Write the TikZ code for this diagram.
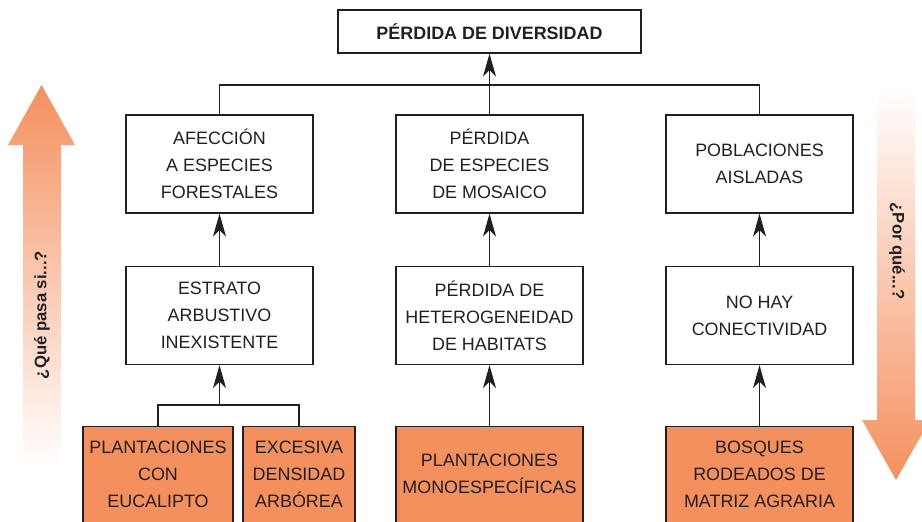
\documentclass[tikz,border=0pt]{standalone}
\usepackage{fontspec}
\setmainfont{Liberation Sans}
\usetikzlibrary{arrows.meta}
\definecolor{salmon}{RGB}{244,144,94}
\definecolor{ink}{RGB}{35,31,32}
\begin{document}
\begin{tikzpicture}[x=0.02cm, y=-0.02cm, color=ink, line width=0.7pt, >={Stealth[length=0.46cm,width=0.26cm,inset=0.13cm]},
  main node/.style={draw, align=center, minimum width=3.74cm, minimum height=1.96cm, inner sep=0pt, font=\fontsize{10.2}{15.4}\selectfont},
  leaf node/.style={main node, fill=salmon, anchor=north, minimum height=0pt, inner ysep=0.28cm, text depth=2cm},
  side label/.style={font=\bfseries\fontsize{9.5}{11}\selectfont}]
\clip (0,0) rectangle (922,521);
% side arrows
\shade[top color=salmon, bottom color=white] (23,468) -- (23,145) -- (8,145) -- (41.5,85) -- (75,145) -- (61,145) -- (61,468) -- cycle;
\shade[top color=white, bottom color=salmon] (877,87) -- (877,420) -- (862,420) -- (896,480) -- (930,420) -- (915,420) -- (915,87) -- cycle;
\node[side label, rotate=90] (q1) at (42,315) {¿Qué pasa si...?};
\node[side label, rotate=-90] (q2) at (897,251) {¿Por qué...?};
% boxes
\node[main node, font=\bfseries\fontsize{10.2}{12}\selectfont, minimum width=6.06cm, minimum height=0.86cm] (top) at (489.5,31.5) {PÉRDIDA DE DIVERSIDAD};
\node[main node] (a1) at (219.5,164) {AFECCIÓN\\A ESPECIES\\FORESTALES};
\node[main node] (a2) at (489.5,164) {PÉRDIDA\\DE ESPECIES\\DE MOSAICO};
\node[main node] (a3) at (759.5,164) {POBLACIONES\\AISLADAS};
\begin{scope}[every node/.append style={minimum height=1.9cm}]
\node[main node] (b1) at (219.5,315.5) {ESTRATO\\ARBUSTIVO\\INEXISTENTE};
\node[main node] (b2) at (489.5,315.5) {PÉRDIDA DE\\HETEROGENEIDAD\\DE HABITATS};
\node[main node] (b3) at (759.5,315.5) {NO HAY\\CONECTIVIDAD};
\end{scope}
\node[leaf node, minimum width=3cm] (c1) at (158,426) {PLANTACIONES\\CON\\EUCALIPTO};
\node[leaf node, minimum width=2.24cm] (c2) at (299,426) {EXCESIVA\\DENSIDAD\\ARBÓREA};
\node[leaf node, inner ysep=0.55cm] (c3) at (489.5,426) {PLANTACIONES\\MONOESPECÍFICAS};
\node[leaf node] (c4) at (759.5,426) {BOSQUES\\RODEADOS DE\\MATRIZ AGRARIA};
% links
\coordinate (j) at (489.5,85);
\coordinate (k) at (219.5,405);
\draw (a1.north) |- (j) -| (a3.north);
\draw[->] (a2.north) -- (top.south);
\draw[->] (b1) edge (a1);
\draw[->] (b2) edge (a2);
\draw[->] (b3) edge (a3);
\draw (c1.north) |- (k) -| (c2.north);
\draw[->] (k) -- (b1.south);
\draw[->] (c3) edge (b2);
\draw[->] (c4) edge (b3);
\end{tikzpicture}
\end{document}
